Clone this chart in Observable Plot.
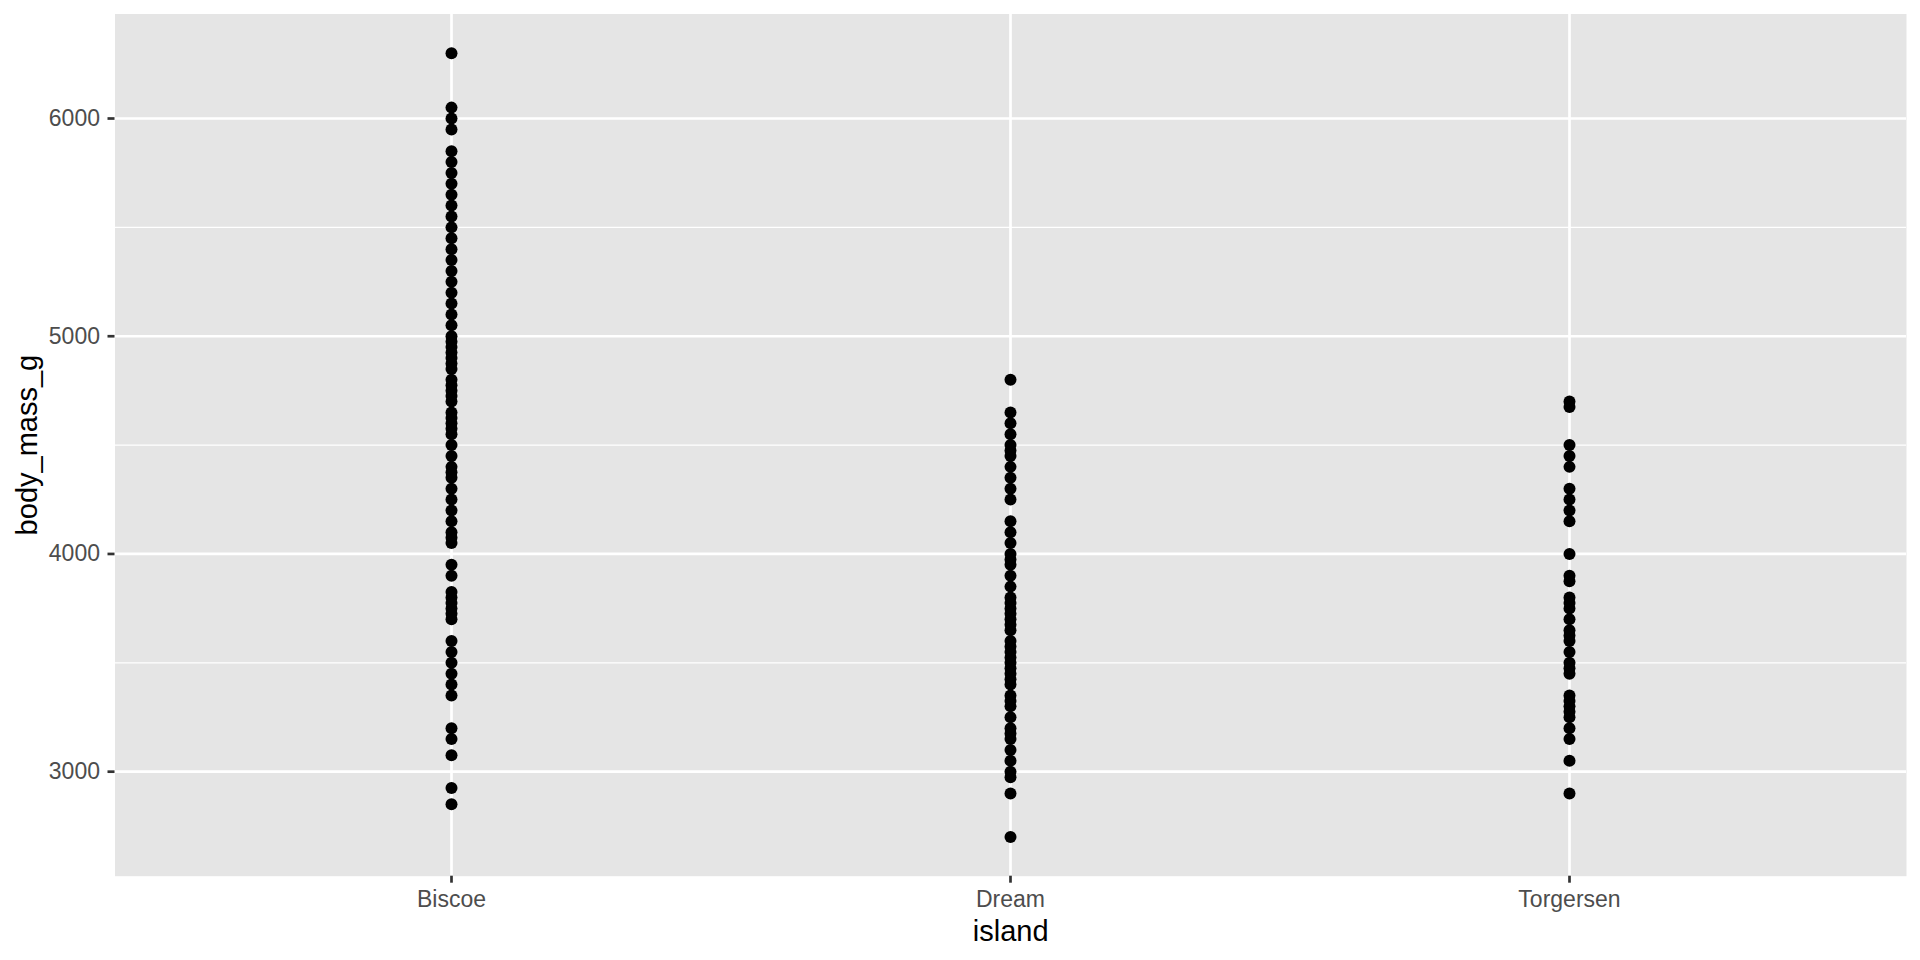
<!DOCTYPE html>
<html>
<head>
<meta charset="utf-8">
<script src="https://cdn.jsdelivr.net/npm/d3@7"></script>
<script src="https://cdn.jsdelivr.net/npm/@observablehq/plot@0.6"></script>
<style>
  html, body { margin: 0; padding: 0; background: #ffffff; }
  #chart svg { display: block; }
</style>
</head>
<body>
<div id="chart"></div>
<script>
// ---- Data (distinct values per island) ----
const islands = ["Biscoe", "Dream", "Torgersen"];

const biscoeMass = [
  6300, 6050, 6000, 5950, 5850, 5800, 5750, 5700, 5650, 5600, 5550, 5500,
  5450, 5400, 5350, 5300, 5250, 5200, 5150, 5100, 5050, 5000, 4975, 4950,
  4925, 4900, 4875, 4850, 4800, 4775, 4750, 4725, 4700, 4650, 4625, 4600,
  4575, 4550, 4500, 4450, 4400, 4375, 4350, 4300, 4250, 4200, 4150, 4100,
  4075, 4050, 3950, 3900, 3825, 3800, 3775, 3750, 3725, 3700, 3600, 3550,
  3500, 3450, 3400, 3350, 3200, 3150, 3075, 2925, 2850
];

const dreamMass = [
  4800, 4650, 4600, 4550, 4500, 4475, 4450, 4400, 4350, 4300, 4250, 4150,
  4100, 4050, 4000, 3975, 3950, 3900, 3850, 3800, 3775, 3750, 3725, 3700,
  3675, 3650, 3600, 3575, 3550, 3525, 3500, 3475, 3450, 3425, 3400, 3350,
  3325, 3300, 3250, 3200, 3175, 3150, 3100, 3050, 3000, 2975, 2900, 2700
];

const torgersenMass = [
  4700, 4675, 4500, 4450, 4400, 4300, 4250, 4200, 4150, 4000, 3900, 3875,
  3800, 3775, 3750, 3700, 3650, 3625, 3600, 3550, 3500, 3475, 3450, 3350,
  3325, 3300, 3275, 3250, 3200, 3150, 3050, 2900
];

const yTicks = [3000, 4000, 5000, 6000];
const yMinorTicks = [3500, 4500, 5500];

// ---- Build table ----
const massByIsland = { Biscoe: biscoeMass, Dream: dreamMass, Torgersen: torgersenMass };
const data = islands.flatMap(island =>
  massByIsland[island].map(v => ({ island, body_mass_g: v }))
);

// ggplot-style 5% expansion of the continuous scale
const ext = d3.extent(data, d => d.body_mass_g);
const pad = (ext[1] - ext[0]) * 0.05;

const chart = Plot.plot({
  width: 1920,
  height: 960,
  marginLeft: 114.5,
  marginRight: 14,
  marginTop: 13.5,
  marginBottom: 84.3,
  style: {
    fontFamily: "'Liberation Sans', Arial, Helvetica, sans-serif",
    background: "#ffffff"
  },
  x: { type: "point", domain: islands, padding: 0.6, axis: null },
  y: { domain: [ext[0] - pad, ext[1] + pad], axis: null },
  marks: [
    Plot.frame({ fill: "#E5E5E5", stroke: null }),
    Plot.gridY(yMinorTicks, { stroke: "#ffffff", strokeOpacity: 1, strokeWidth: 1.35 }),
    Plot.gridY(yTicks, { stroke: "#ffffff", strokeOpacity: 1, strokeWidth: 2.7 }),
    Plot.gridX(islands, { stroke: "#ffffff", strokeOpacity: 1, strokeWidth: 2.7 }),
    Plot.dot(data, { x: "island", y: "body_mass_g", r: 6, fill: "#000000", stroke: null }),
    Plot.axisY(yTicks, {
      tickSize: 7, tickPadding: 8, fontSize: 23, tickFormat: d => String(d),
      fill: "#4D4D4D", stroke: "#333333", strokeWidth: 2.7, label: null
    }),
    Plot.axisX(islands, {
      tickSize: 7, tickPadding: 7, fontSize: 23,
      fill: "#4D4D4D", stroke: "#333333", strokeWidth: 2.7, label: null
    }),
    Plot.text(["body_mass_g"], {
      frameAnchor: "left", rotate: -90, dx: -87, fontSize: 29,
      fill: "#000000", lineAnchor: "middle", textAnchor: "middle"
    }),
    Plot.text(["island"], {
      frameAnchor: "bottom", dy: 64.3, fontSize: 29,
      fill: "#000000", lineAnchor: "bottom", textAnchor: "middle"
    })
  ]
});

document.getElementById("chart").appendChild(chart);
</script>
</body>
</html>
